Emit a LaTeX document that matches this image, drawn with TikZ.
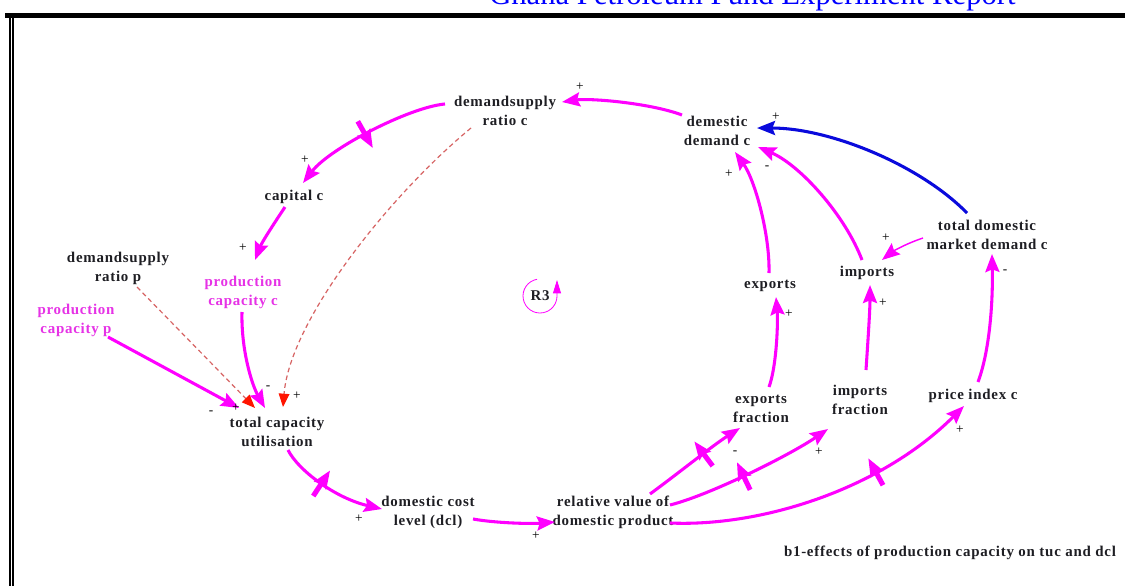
\documentclass[tikz,border=0pt]{standalone}
\usepackage{fontspec}
\setmainfont{Liberation Serif}
\newfontfamily\lblfamily[LetterSpace=5]{Liberation Serif}
\usetikzlibrary{arrows.meta,decorations.markings}

\definecolor{cldmag}{RGB}{255,0,255}
\definecolor{cldblue}{RGB}{10,10,220}
\definecolor{cldred}{RGB}{255,20,0}
\definecolor{dashred}{RGB}{215,100,100}
\definecolor{lbltext}{RGB}{30,30,35}
\definecolor{lblmag}{RGB}{230,50,230}
\definecolor{hdrblue}{RGB}{0,0,255}

\tikzset{
  var/.style={font=\lblfamily\bfseries\fontsize{11.2}{14.2}\selectfont,
    text=lbltext, align=center, inner sep=0pt},
  magvar/.style={var, text=lblmag},
  sign/.style={font=\fontsize{10}{12}\selectfont, text=black, inner sep=0pt},
  hdr/.style={font=\fontsize{23}{27}\selectfont, text=hdrblue, inner sep=0pt},
  link/.style={draw=cldmag, line width=2.3pt,
    -{Stealth[length=13.5pt,width=10.5pt,inset=2pt]}},
  thinlink/.style={link, line width=1.1pt},
  bluelink/.style={link, draw=cldblue},
  infolink/.style={draw=dashred, line width=0.9pt,
    dash pattern=on 3.5pt off 2.5pt,
    -{Triangle[length=10pt,width=8pt,color=cldred]}},
  loopmark/.style={draw=cldmag, line width=0.6pt,
    -{Triangle[length=10pt,width=6pt]}},
  delay/.style={postaction={decorate,decoration={markings,
    mark=at position #1 with {\draw[cldmag,line width=3.8pt] (0pt,-11.5pt) -- (0pt,11.5pt);}}}},
}

\begin{document}
\begin{tikzpicture}[x=0.75pt,y=-0.75pt]
\useasboundingbox (0,0) rectangle (1125,586);
\clip (0,0) rectangle (1125,586);
\fill[white] (0,0) rectangle (1125,586);

% page header and frame rules
\node[hdr, anchor=base west] (hdr) at (489,4.5) {Ghana Petroleum Fund Experiment Report};
\fill[black] (5,13.3) rectangle (1125,18.3);
\fill[black] (8.6,13.3) rectangle (10.9,586);
\fill[black] (12.4,18.3) rectangle (14.4,586);

% variables
\node[var] (dsc) at (505,111) {demandsupply\\ratio c};
\node[var] (dd) at (717,131) {demestic\\demand c};
\node[var] (tdmd) at (987,235) {total domestic\\market demand c};
\node[var] (imp) at (867,273) {imports};
\node[var] (exp) at (770,286) {exports};
\node[var] (impf) at (860,400) {imports\\fraction};
\node[var] (expf) at (761,409) {exports\\fraction};
\node[var] (pic) at (973,396) {price index c};
\node[var] (rv) at (613,512) {relative value of\\domestic product};
\node[var] (dcl) at (428,512) {domestic cost\\level (dcl)};
\node[var] (tcu) at (277,432) {total capacity\\utilisation};
\node[magvar] (pcp) at (76,320) {production\\capacity p};
\node[var] (dsp) at (118,268) {demandsupply\\ratio p};
\node[magvar] (pcc) at (243,292) {production\\capacity c};
\node[var] (cap) at (294,197) {capital c};
\node[var] (r3) at (540,296) {R3};
\node[var] (note) at (950,553) {b1-effects of production capacity on tuc and dcl};

% loop marker
\draw[loopmark] ([shift={(100:12.75pt)}]r3.center) arc[start angle=100,end angle=360,radius=12.75pt] -- ++(0,-16);

% causal links
\draw[link] ([shift={(-35,-16)}]dd.center) .. controls (650,103) and (590,98) .. ([shift={(57,-9)}]dsc.center);
\draw[link, delay=0.52] ([shift={(-60,-7)}]dsc.center) .. controls (410,107) and (330,148) .. ([shift={(9,-14)}]cap.center);
\draw[link] ([shift={(-9,10)}]cap.center) .. controls (275,222) and (262,242) .. ([shift={(12,-32)}]pcc.center);
\draw[link] ([shift={(-1,20)}]pcc.center) .. controls (241,350) and (252,385) .. ([shift={(-12,-24)}]tcu.center);
\draw[link] ([shift={(32,17)}]pcp.center) -- ([shift={(-38,-24)}]tcu.center);
\draw[infolink] ([shift={(19,19)}]dsp.center) -- ([shift={(-22,-24)}]tcu.center);
\draw[infolink] ([shift={(-34,17)}]dsc.center) .. controls (390,195) and (290,320) .. ([shift={(6,-25)}]tcu.center);
\draw[link, delay=0.42] ([shift={(11,18)}]tcu.center) .. controls (298,470) and (335,498) .. ([shift={(-46,-3)}]dcl.center);
\draw[link] ([shift={(45,7)}]dcl.center) .. controls (495,523) and (530,524) .. ([shift={(-58,10)}]rv.center);
\draw[link, delay=0.6] ([shift={(37,-18)}]rv.center) .. controls (680,472) and (712,446) .. ([shift={(-21,19)}]expf.center);
\draw[link, delay=0.45] ([shift={(57,-7)}]rv.center) .. controls (710,495) and (790,455) .. ([shift={(-32,29)}]impf.center);
\draw[link, delay=0.66] ([shift={(57,11)}]rv.center) .. controls (760,527) and (880,490) .. ([shift={(-9,10)}]pic.center);
\draw[link] ([shift={(8,-22)}]expf.center) .. controls (777,365) and (778,320) .. ([shift={(6,11)}]exp.center);
\draw[link] ([shift={(6,-30)}]impf.center) .. controls (868,340) and (870,310) .. ([shift={(3,12)}]imp.center);
\draw[link] ([shift={(-1,-13)}]exp.center) .. controls (770,235) and (755,180) .. ([shift={(18,21)}]dd.center);
\draw[link] ([shift={(-5,-13)}]imp.center) .. controls (845,215) and (800,165) .. ([shift={(41,16)}]dd.center);
\draw[thinlink] ([shift={(-64,3)}]tdmd.center) .. controls (905,244) and (892,252) .. ([shift={(15,-13)}]imp.center);
\draw[bluelink] ([shift={(-20,-22)}]tdmd.center) .. controls (920,165) and (830,128) .. ([shift={(40,-3)}]dd.center);
\draw[link] ([shift={(5,-14)}]pic.center) .. controls (990,350) and (993,300) .. ([shift={(5,19)}]tdmd.center);

% link polarities
\node[sign] (s1) at (580,87) {+};
\node[sign] (s2) at (305,160) {+};
\node[sign] (s3) at (243,248) {+};
\node[sign] (s4) at (268,388) {-};
\node[sign] (s5) at (297,396) {+};
\node[sign] (s6) at (211,413) {-};
\node[sign] (s7) at (236,408) {+};
\node[sign] (s8) at (359,519) {+};
\node[sign] (s9) at (536,536) {+};
\node[sign] (s10) at (735,453) {-};
\node[sign] (s11) at (819,452) {+};
\node[sign] (s12) at (960,430) {+};
\node[sign] (s13) at (789,314) {+};
\node[sign] (s14) at (883,303) {+};
\node[sign] (s15) at (1005,272) {-};
\node[sign] (s16) at (886,238) {+};
\node[sign] (s17) at (729,174) {+};
\node[sign] (s18) at (767,168) {-};
\node[sign] (s19) at (776,117) {+};
\end{tikzpicture}
\end{document}
